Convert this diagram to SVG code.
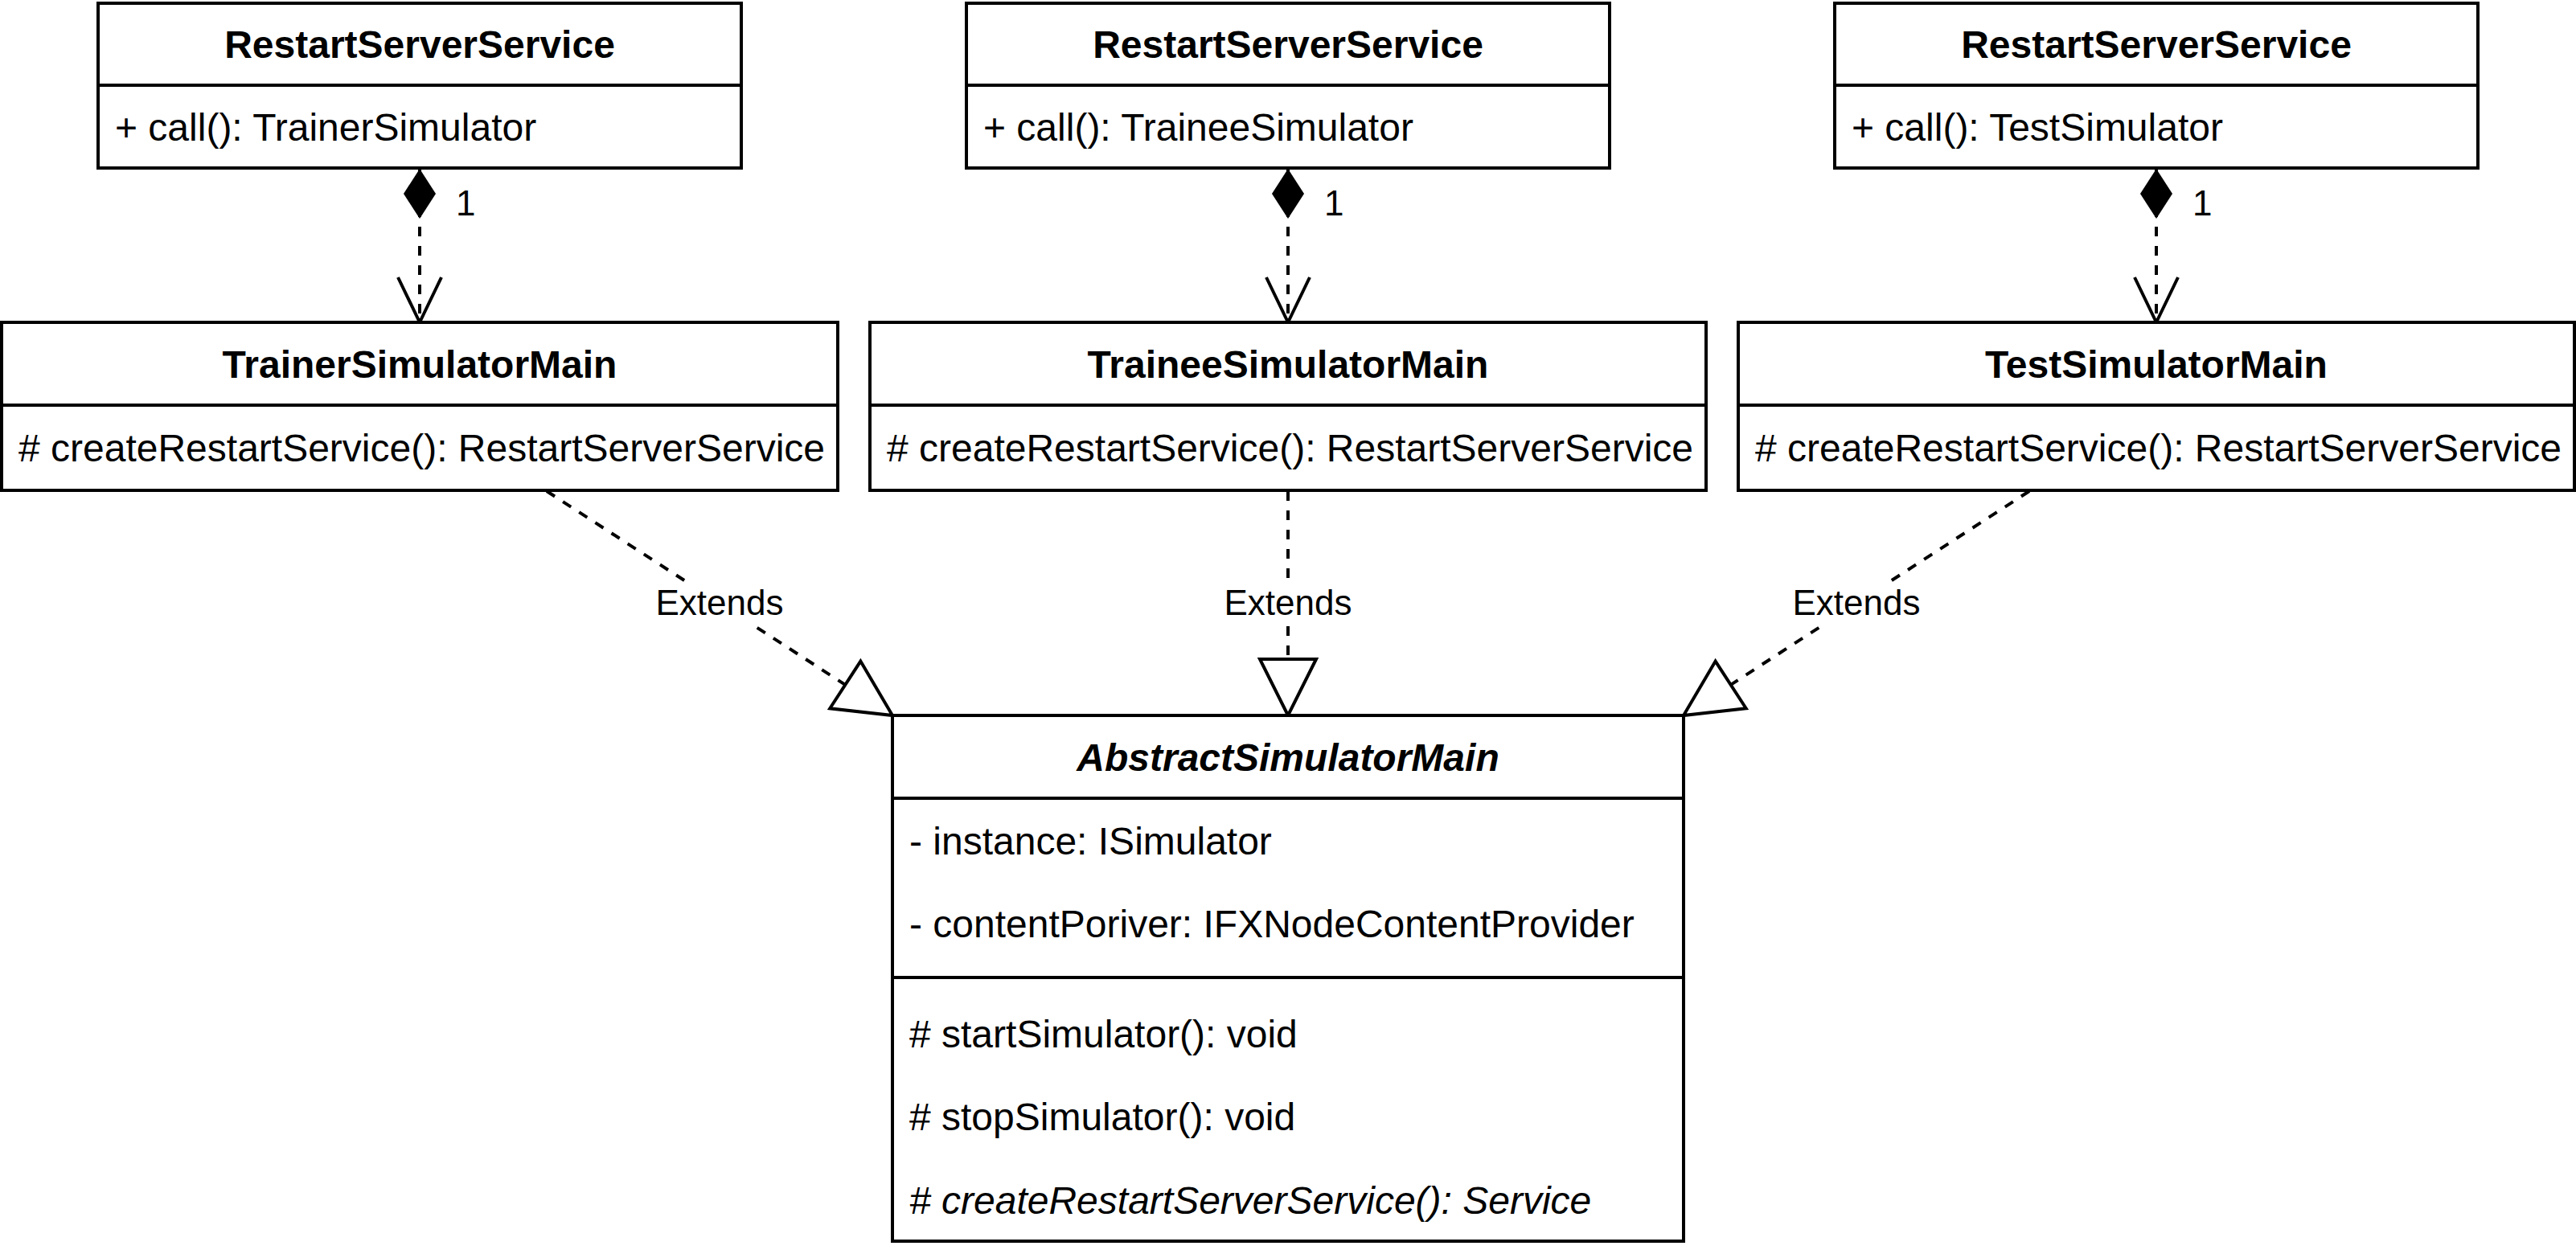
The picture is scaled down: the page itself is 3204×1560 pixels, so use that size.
<svg xmlns="http://www.w3.org/2000/svg" width="3204" height="1560" viewBox="0 0 3204 1560">
  <style>
    .box { fill: #ffffff; stroke: #000000; stroke-width: 4; }
    .div { stroke: #000000; stroke-width: 4; fill: none; }
    .t { font-family: "Liberation Sans", Arial, Helvetica, sans-serif; font-size: 48px; fill: #000000; }
    .h { font-weight: bold; text-anchor: middle; }
    .hi { font-weight: bold; font-style: italic; text-anchor: middle; }
    .it { font-style: italic; }
    .lbl { font-family: "Liberation Sans", Arial, Helvetica, sans-serif; font-size: 44px; fill: #000000; }
    .mid { text-anchor: middle; }
    .edge { fill: none; stroke: #000000; stroke-width: 4; stroke-dasharray: 12 12; }
    .lblbg { fill: #ffffff; stroke: none; }
  </style>
  <defs>
    <marker id="diamond" markerUnits="userSpaceOnUse" orient="auto" refX="0" refY="0" markerWidth="80" markerHeight="80" overflow="visible">
      <path d="M0 0 L31 -20 L62 0 L31 20 Z" fill="#000000" stroke="none"/>
    </marker>
    <marker id="open" markerUnits="userSpaceOnUse" orient="auto" refX="0" refY="0" markerWidth="80" markerHeight="80" overflow="visible">
      <path d="M-56 -27 L0 0 L-56 27" fill="none" stroke="#000000" stroke-width="4" stroke-linejoin="miter"/>
    </marker>
    <marker id="tri" markerUnits="userSpaceOnUse" orient="auto" refX="0" refY="0" markerWidth="100" markerHeight="100" overflow="visible">
      <path d="M0 -35 L70 0 L0 35 Z" fill="#ffffff" stroke="#000000" stroke-width="4" stroke-linejoin="miter"/>
    </marker>
  </defs>
  <rect x="0" y="0" width="3204" height="1560" fill="#ffffff"/>

  <g id="connectors">
    <path id="comp1" class="edge" d="M522 210 L522 401" marker-start="url(#diamond)" marker-end="url(#open)"/>
    <path id="comp2" class="edge" d="M1602 210 L1602 401" marker-start="url(#diamond)" marker-end="url(#open)"/>
    <path id="comp3" class="edge" d="M2682 210 L2682 401" marker-start="url(#diamond)" marker-end="url(#open)"/>
    <text class="lbl" x="567" y="268">1</text>
    <text class="lbl" x="1647" y="268">1</text>
    <text class="lbl" x="2727" y="268">1</text>

    <path id="ext1" class="edge" d="M680 611 L1051.3 851.9" marker-end="url(#tri)"/>
    <path id="ext2" class="edge" d="M1602 611 L1602 820" marker-end="url(#tri)"/>
    <path id="ext3" class="edge" d="M2524 611 L2152.7 851.9" marker-end="url(#tri)"/>
    <rect class="lblbg" x="814" y="724" width="162" height="54"/>
    <text class="lbl mid" x="895" y="765">Extends</text>
    <rect class="lblbg" x="1521" y="723" width="162" height="54"/>
    <text class="lbl mid" x="1602" y="765">Extends</text>
    <rect class="lblbg" x="2228" y="724" width="162" height="54"/>
    <text class="lbl mid" x="2309" y="765">Extends</text>
  </g>

  <g id="rss1">
    <rect class="box" x="122" y="4" width="800" height="205"/>
    <line class="div" x1="122" y1="106" x2="922" y2="106"/>
    <text class="t h" x="522" y="72">RestartServerService</text>
    <text class="t" x="143" y="175">+ call(): TrainerSimulator</text>
  </g>
  <g id="rss2">
    <rect class="box" x="1202" y="4" width="800" height="205"/>
    <line class="div" x1="1202" y1="106" x2="2002" y2="106"/>
    <text class="t h" x="1602" y="72">RestartServerService</text>
    <text class="t" x="1223" y="175">+ call(): TraineeSimulator</text>
  </g>
  <g id="rss3">
    <rect class="box" x="2282" y="4" width="800" height="205"/>
    <line class="div" x1="2282" y1="106" x2="3082" y2="106"/>
    <text class="t h" x="2682" y="72">RestartServerService</text>
    <text class="t" x="2303" y="175">+ call(): TestSimulator</text>
  </g>

  <g id="trainerSimulatorMain">
    <rect class="box" x="2" y="401" width="1040" height="209"/>
    <line class="div" x1="2" y1="504" x2="1042" y2="504"/>
    <text class="t h" x="522" y="470">TrainerSimulatorMain</text>
    <text class="t" x="23" y="574"># createRestartService(): RestartServerService</text>
  </g>
  <g id="traineeSimulatorMain">
    <rect class="box" x="1082" y="401" width="1040" height="209"/>
    <line class="div" x1="1082" y1="504" x2="2122" y2="504"/>
    <text class="t h" x="1602" y="470">TraineeSimulatorMain</text>
    <text class="t" x="1103" y="574"># createRestartService(): RestartServerService</text>
  </g>
  <g id="testSimulatorMain">
    <rect class="box" x="2162" y="401" width="1040" height="209"/>
    <line class="div" x1="2162" y1="504" x2="3202" y2="504"/>
    <text class="t h" x="2682" y="470">TestSimulatorMain</text>
    <text class="t" x="2183" y="574"># createRestartService(): RestartServerService</text>
  </g>

  <g id="abstractSimulatorMain">
    <rect class="box" x="1110" y="890" width="984" height="654"/>
    <line class="div" x1="1110" y1="993" x2="2094" y2="993"/>
    <line class="div" x1="1110" y1="1216" x2="2094" y2="1216"/>
    <text class="t hi" x="1602" y="959">AbstractSimulatorMain</text>
    <text class="t" x="1131" y="1063">- instance: ISimulator</text>
    <text class="t" x="1131" y="1166">- contentPoriver: IFXNodeContentProvider</text>
    <text class="t" x="1131" y="1303"># startSimulator(): void</text>
    <text class="t" x="1131" y="1406"># stopSimulator(): void</text>
    <text class="t it" x="1131" y="1510"># createRestartServerService(): Service</text>
  </g>
</svg>
